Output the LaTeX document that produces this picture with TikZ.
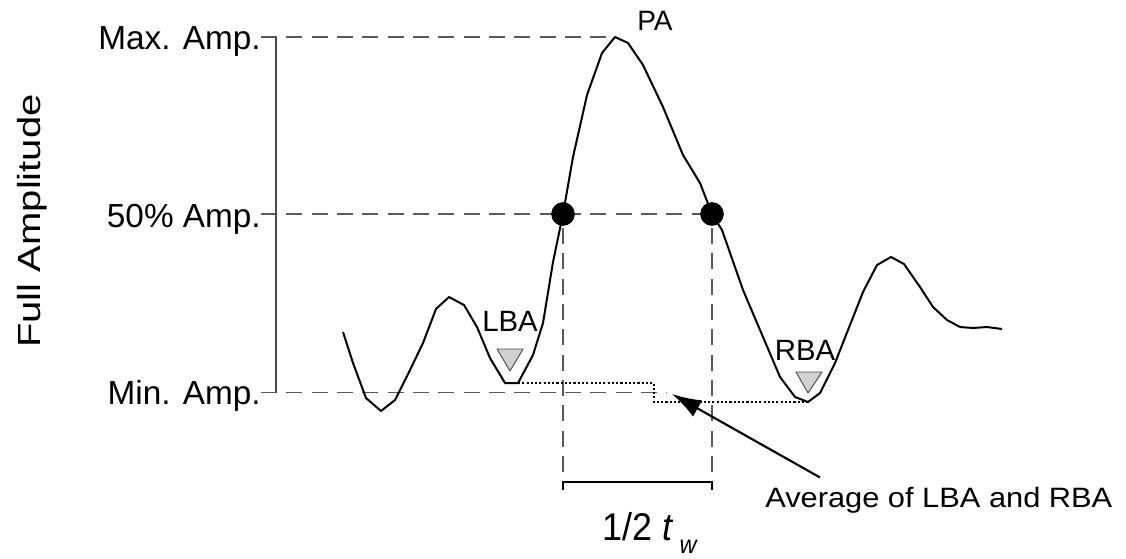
\documentclass[tikz,border=0pt]{standalone}
\usepackage{fontspec}
\setmainfont{Liberation Sans}
\usetikzlibrary{positioning,arrows.meta,calc}
\tikzset{
  amplabel/.style={font=\fontsize{25}{27}\selectfont, inner sep=0pt},
  peaklabel/.style={font=\fontsize{22}{24}\selectfont, inner sep=0pt},
  ampguide/.style={draw=black!65, line width=1.3pt, dash pattern=on 12pt off 7pt},
  ampaxis/.style={draw=black!70, line width=1.2pt},
  ampcurve/.style={draw=black, line width=1.5pt, line join=round},
  ampdot/.style={circle, fill=black, inner sep=0pt, minimum size=17.5pt},
  ampmark/.style={draw=black!70, fill=black!18, line width=0.7pt, line join=round},
  ampdotted/.style={draw=black, line width=2pt, dash pattern=on 1.6pt off 1.6pt},
  amparrow/.style={-{Latex[length=22pt,width=14pt]}, line width=1.6pt},
  ampbracket/.style={draw=black, line width=1.6pt},
}

\begin{document}
\begin{tikzpicture}[x=0.75pt, y=-0.75pt]
  \useasboundingbox (0,0) rectangle (1126,558);
  \coordinate (peak) at (615,37);
  \coordinate (lba) at (518,383);
  \coordinate (rba) at (808,402);
  \coordinate (avg) at ($(lba)!0.5!(rba)$);
  \coordinate (stepx) at (654,392);
  \coordinate (axx) at (276,0);
  \coordinate (brL) at (563,482);
  \coordinate (brR) at (712,482);
  \coordinate (avgtip) at (672,394);

  \node[amplabel, anchor=base east] (maxlab) at (261,49) {Max. Amp.};
  \node[amplabel, anchor=base east] (halflab) at (261,227) {50\% Amp.};
  \node[amplabel, anchor=base east] (minlab) at (261,404) {Min. Amp.};
  \node[font=\fontsize{30}{32}\selectfont, inner sep=0pt, rotate=90, yscale=0.8, anchor=base] (ylab) at (40,221) {Full Amplitude};

  \node[ampdot] (halfL) at (563,214) {};
  \node[ampdot] (halfR) at (712,214) {};

  \draw[ampguide] (maxlab.east |- peak) -- (peak);
  \draw[ampguide] (halflab.east |- halfL) -- (halfR);
  \draw[ampguide] (minlab.east |- avg) -- ($(avg)+(4,0)$);
  \draw[ampguide] ($(brL)+(0,-10)$) -- (halfL.center);
  \draw[ampguide] ($(brR)+(0,-10)$) -- (halfR.center);
  \draw[ampaxis] (peak -| axx) -- (avg -| axx);

  \draw[ampcurve] (343,332) -- (353,363) -- (366,398) -- (381,411) -- (395,400) -- (410,370)
    -- (423,343) -- (436,309) -- (449,297) -- (464,305) -- (477,327) -- (490,358) -- (505,383)
    -- (lba) -- (533,355) -- (543,323) -- (553,262) -- (563,214) -- (573,157) -- (587,95)
    -- (602,53) -- (peak) -- (628,43) -- (643,65) -- (663,107) -- (683,155) -- (700,183)
    -- (712,214) -- (722,230) -- (743,290) -- (763,337) -- (780,377) -- (795,397) -- (rba)
    -- (820,393) -- (835,363) -- (863,292) -- (877,265) -- (891,257) -- (904,264) -- (920,287)
    -- (933,307) -- (947,320) -- (960,327) -- (973,328) -- (987,327) -- (1002,329);

  \draw[ampdotted] (lba) -- (lba -| stepx) -- (rba -| stepx) -- (rba);
  \draw[ampmark] (497,349) -- (523,349) -- (510,371) -- cycle;
  \draw[ampmark] (796,372) -- (822,372) -- (808,393) -- cycle;
  \node[ampdot] at (halfL) {};
  \node[ampdot] at (halfR) {};

  \draw[ampbracket] ($(brL)+(0,8)$) -- (brL) -- (brR) -- ($(brR)+(0,8)$);

  \node[peaklabel, font=\fontsize{21}{23}\selectfont, anchor=base] (palab) at (655,30) {PA};
  \node[peaklabel, anchor=base] (lbalab) at (510,331) {LBA};
  \node[peaklabel, anchor=base] (rbalab) at (805,360) {RBA};
  \node[peaklabel, font=\fontsize{21}{23}\selectfont, xscale=1.1, anchor=base west] (avglab) at (765,507) {Average of LBA and RBA};
  \node[inner sep=0pt, font=\fontsize{29}{31}\selectfont, xscale=0.93, anchor=base west] (twlab) at (602,540)
    {1/2 \textit{t}\hspace{5pt}\raisebox{-10pt}{\fontsize{19}{19}\selectfont\itshape w}};

  \draw[amparrow] ([shift={(55,-9)}]avglab.north west) -- (avgtip);
\end{tikzpicture}
\end{document}
